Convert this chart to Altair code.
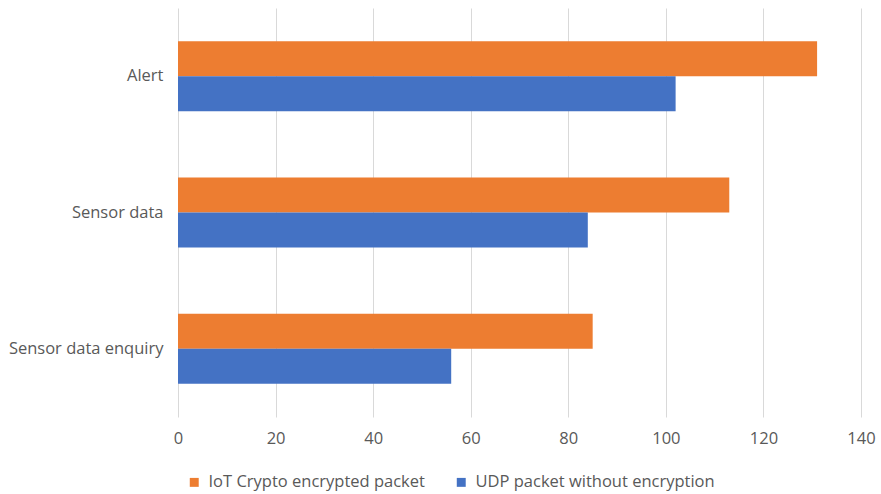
import altair as alt
import pandas as pd

# Message types shown on the vertical axis (top to bottom)
categories = ["Alert", "Sensor data", "Sensor data enquiry"]

# Series names and their values per message type
series = ["IoT Crypto encrypted packet", "UDP packet without encryption"]
encrypted = [131, 113, 85]
plain_udp = [102, 84, 56]

colors = ["#ED7D31", "#4472C4"]
x_ticks = [0, 20, 40, 60, 80, 100, 120, 140]

rows = []
for cat, a, b in zip(categories, encrypted, plain_udp):
    rows.append({"category": cat, "series": series[0], "value": a})
    rows.append({"category": cat, "series": series[1], "value": b})
df = pd.DataFrame(rows)

FONT = "Open Sans"
TEXT = "#595959"
SIZE = 16.5

chart = (
    alt.Chart(df)
    .mark_bar()
    .encode(
        x=alt.X(
            "value:Q",
            scale=alt.Scale(domain=[0, 140], nice=False),
            axis=alt.Axis(
                values=x_ticks,
                title=None,
                domain=False,
                ticks=False,
                grid=True,
                gridColor="#D9D9D9",
                gridWidth=1,
                labelColor=TEXT,
                labelFont=FONT,
                labelFontSize=SIZE,
                labelPadding=13,
                labelFlush=False,
            ),
        ),
        y=alt.Y(
            "category:N",
            sort=categories,
            scale=alt.Scale(paddingInner=0.486, paddingOuter=0.243),
            axis=alt.Axis(
                title=None,
                domain=False,
                ticks=False,
                grid=False,
                labelColor=TEXT,
                labelFont=FONT,
                labelFontSize=SIZE,
                labelPadding=15,
                labelLimit=0,
            ),
        ),
        yOffset=alt.YOffset(
            "series:N",
            sort=series,
            scale=alt.Scale(paddingInner=0, paddingOuter=0),
        ),
        color=alt.Color(
            "series:N",
            sort=series,
            scale=alt.Scale(domain=series, range=colors),
            legend=alt.Legend(
                title=None,
                orient="none",
                direction="horizontal",
                legendX=8,
                legendY=466,
                symbolType="square",
                symbolSize=80,
                symbolStrokeWidth=0,
                labelColor=TEXT,
                labelFont=FONT,
                labelFontSize=SIZE,
                labelOffset=6,
                labelLimit=0,
                columnPadding=28,
            ),
        ),
    )
    .properties(
        width=683,
        height=409,
        background="white",
        autosize=alt.AutoSizeParams(type="none"),
        padding={"left": 178, "top": 8, "right": 20, "bottom": 77},
    )
    .configure_view(strokeWidth=0, stroke="transparent")
)

chart.save("out.html", embed_options={"renderer": "svg", "actions": False})
